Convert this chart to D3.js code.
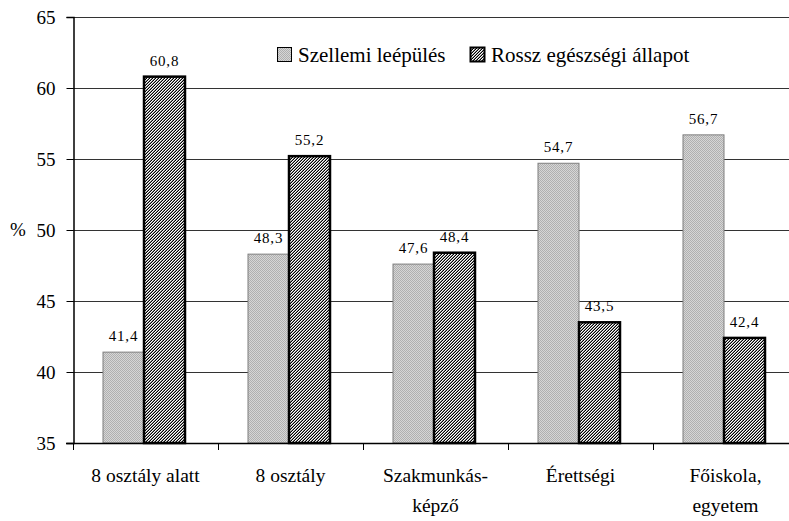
<!DOCTYPE html>
<html>
<head>
<meta charset="utf-8">
<script src="https://cdn.jsdelivr.net/npm/d3@7"></script>
<style>
  body { margin: 0; background: #fff; }
  svg { display: block; }
  svg text { font-family: "Liberation Serif", "Times New Roman", serif; }
</style>
</head>
<body>
<svg id="chart" width="789" height="521"></svg>
<script>
// adatok
var categories = ["8 osztály alatt", "8 osztály", "Szakmunkás-|képző", "Érettségi", "Főiskola,|egyetem"];
var series = ["Szellemi leépülés", "Rossz egészségi állapot"];
var szellemi = [41.4, 48.3, 47.6, 54.7, 56.7];
var rossz = [60.8, 55.2, 48.4, 43.5, 42.4];
var yTicks = [35, 40, 45, 50, 55, 60, 65];

var svg = d3.select("#chart");

// mintázatok (pattern)
var defs = svg.append("defs");
var pGray = defs.append("pattern").attr("id", "pGray")
    .attr("patternUnits", "userSpaceOnUse").attr("width", 2).attr("height", 2);
pGray.append("rect").attr("width", 2).attr("height", 2).attr("fill", "#d6d6d6");
pGray.append("rect").attr("x", 0).attr("y", 0).attr("width", 1).attr("height", 1).attr("fill", "#b0b0b0");
pGray.append("rect").attr("x", 1).attr("y", 1).attr("width", 1).attr("height", 1).attr("fill", "#b0b0b0");

var pHatch = defs.append("pattern").attr("id", "pHatch")
    .attr("patternUnits", "userSpaceOnUse").attr("width", 3).attr("height", 3);
pHatch.append("rect").attr("width", 3).attr("height", 3).attr("fill", "#ffffff");
[[0, 2], [1, 1], [2, 0]].forEach(function (p) {
    pHatch.append("rect").attr("x", p[0]).attr("y", p[1]).attr("width", 1).attr("height", 1).attr("fill", "#000");
});
[[0, 1], [1, 0], [2, 2]].forEach(function (p) {
    pHatch.append("rect").attr("x", p[0]).attr("y", p[1]).attr("width", 1).attr("height", 1).attr("fill", "#8a8a8a");
});

// skálák
var x = d3.scaleBand().domain(categories).range([73, 798]);
var xSub = d3.scaleBand().domain(series).range([30, 112]);
var y = d3.scaleLinear().domain([35, 65]).range([443, 17]);

// rácsvonalak
svg.append("g").selectAll("line").data(yTicks.slice(1)).join("line")
    .attr("x1", 73).attr("x2", 789)
    .attr("y1", function (d) { return Math.round(y(d)) + 0.5; })
    .attr("y2", function (d) { return Math.round(y(d)) + 0.5; })
    .attr("stroke", "#333").attr("stroke-width", 1);

// oszlopok
var fills = ["url(#pGray)", "url(#pHatch)"];
var strokes = ["#7f7f7f", "#000"];
var widths = [1, 2.5];
[szellemi, rossz].forEach(function (vals, si) {
    var g = svg.append("g");
    g.selectAll("rect").data(vals).join("rect")
        .attr("x", function (d, i) { return x(categories[i]) + xSub(series[si]); })
        .attr("y", function (d) { return y(d); })
        .attr("width", xSub.bandwidth())
        .attr("height", function (d) { return y(35) - y(d); })
        .attr("fill", fills[si])
        .attr("stroke", strokes[si])
        .attr("stroke-width", widths[si]);
    g.selectAll("text").data(vals).join("text")
        .attr("x", function (d, i) { return x(categories[i]) + xSub(series[si]) + xSub.bandwidth() / 2; })
        .attr("y", function (d) { return y(d) - 11; })
        .attr("text-anchor", "middle")
        .attr("font-size", 15)
        .attr("letter-spacing", 0.8)
        .text(function (d) { return d3.format(".1f")(d).replace(".", ","); });
});

// y tengely
var yAxis = svg.append("g").attr("transform", "translate(73.5,0)")
    .call(d3.axisLeft(y).tickValues(yTicks).tickSize(7).tickPadding(11));
yAxis.attr("font-family", null);
yAxis.select(".domain").attr("stroke", "#000").attr("stroke-width", 1.5);
yAxis.selectAll("line").attr("stroke", "#000");
yAxis.selectAll("text").attr("font-size", 19).attr("fill", "#000");
svg.append("text").attr("x", 10).attr("y", y(50) + 6).attr("font-size", 19).text("%");

// x tengely
svg.append("line").attr("x1", 66).attr("x2", 789).attr("y1", 443.5).attr("y2", 443.5)
    .attr("stroke", "#000").attr("stroke-width", 1.5);
svg.append("g").selectAll("line").data(categories).join("line")
    .attr("x1", function (d) { return Math.round(x(d)) + 0.5; })
    .attr("x2", function (d) { return Math.round(x(d)) + 0.5; })
    .attr("y1", 443).attr("y2", 450).attr("stroke", "#000");

var catText = svg.append("g").selectAll("text").data(categories).join("text")
    .attr("x", function (d) { return x(d) + x.bandwidth() / 2; })
    .attr("y", 482)
    .attr("text-anchor", "middle")
    .attr("font-size", 19.5);
catText.each(function (d) {
    var parts = d.split("|");
    var t = d3.select(this);
    parts.forEach(function (p, k) {
        t.append("tspan").attr("x", t.attr("x")).attr("dy", k == 0 ? 0 : 30).text(p);
    });
});

// jelmagyarázat
var legend = svg.append("g").attr("transform", "translate(277,47)");
var legX = [0, 193];
series.forEach(function (s, i) {
    legend.append("rect").attr("x", legX[i] + 0.5).attr("y", 0.5).attr("width", 14).attr("height", 14)
        .attr("fill", fills[i]).attr("stroke", "#000").attr("stroke-width", i == 0 ? 1 : 2);
    legend.append("text").attr("x", legX[i] + 21).attr("y", 15).attr("font-size", 21).text(s);
});
</script>
</body>
</html>
